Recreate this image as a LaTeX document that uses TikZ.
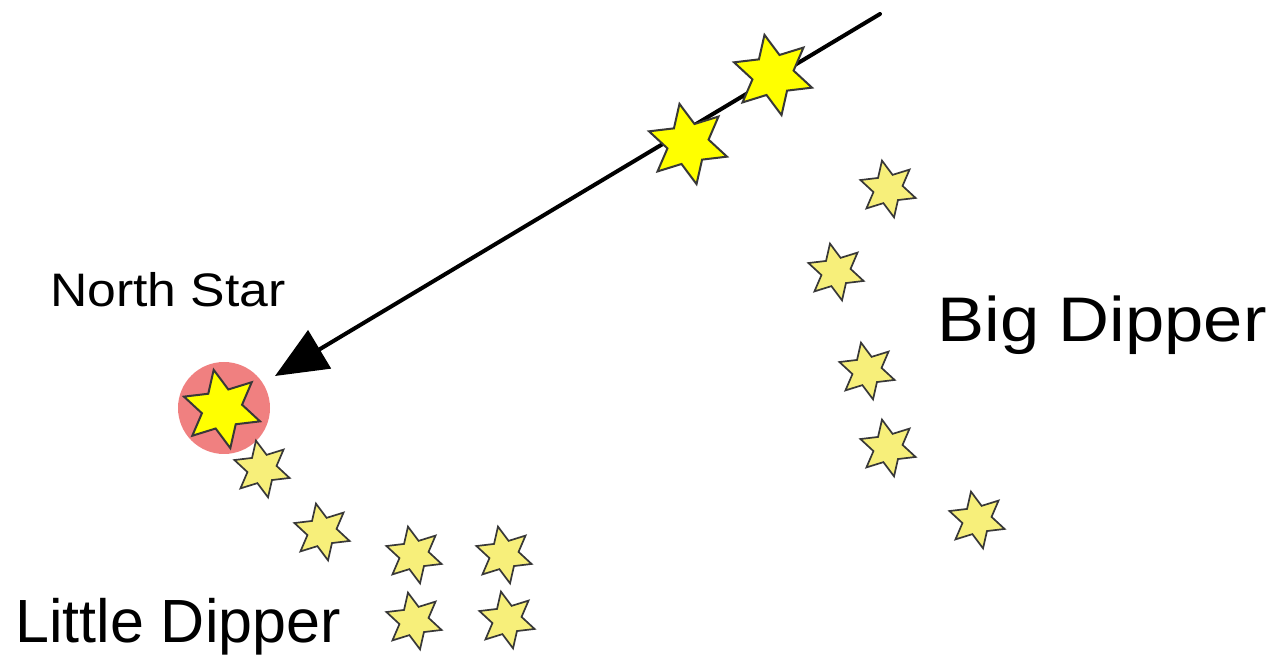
\documentclass[tikz,border=0pt]{standalone}
\usepackage{fontspec}
\setmainfont{Liberation Sans}
\usepackage{tikz}
\usetikzlibrary{arrows.meta}
\usetikzlibrary{shapes.geometric}

\definecolor{starpale}{HTML}{F7EF7A}
\definecolor{starbright}{HTML}{FFFF00}
\definecolor{halo}{HTML}{F08080}
\definecolor{starline}{HTML}{383838}

\tikzset{
    smallstar/.style={star, star points=6, star point ratio=1.95, minimum size=29pt,
        inner sep=0pt, draw=starline, line width=0.85pt, fill=starpale, rotate=12},
    bigstar/.style={smallstar, minimum size=41pt, fill=starbright, line width=1pt},
}

\begin{document}
\begin{tikzpicture}[x=0.5pt,y=-0.5pt]
        \useasboundingbox (0,0) rectangle (1279,656);

        % pointer ray towards the north star
        \coordinate (ray start) at (880,14);
        \coordinate (ray tip) at (275,376);
        \draw[line width=2pt, line cap=round, -{Triangle[length=26pt,width=22pt]}] (ray start) -- (ray tip);

        % north star
        \fill[halo] (224,408) circle (23pt);
        \node[bigstar, minimum size=40pt] (polaris) at (222,409) {};

        % pointer stars
        \node[bigstar] (dubhe) at (773,75) {};
        \node[bigstar] (merak) at (688,144) {};

        % big dipper
        \node[smallstar] (big1) at (888,189) {};
        \node[smallstar] (big2) at (836,272) {};
        \node[smallstar] (big3) at (867,371) {};
        \node[smallstar] (big4) at (888,448) {};
        \node[smallstar] (big5) at (977,520) {};

        % little dipper
        \node[smallstar] (little1) at (262,469) {};
        \node[smallstar] (little2) at (322,532) {};
        \node[smallstar] (little3) at (414,555) {};
        \node[smallstar] (little4) at (504,555) {};
        \node[smallstar] (little5) at (414,621) {};
        \node[smallstar] (little6) at (507,620) {};

        \node[anchor=base, inner sep=0pt, font=\fontsize{23.5pt}{28pt}\selectfont] (north label) at (168,307) {\scalebox{1.1}[1]{North Star}};
        \node[anchor=base, inner sep=0pt, font=\fontsize{31.5pt}{38pt}\selectfont] (big label) at (1102,342) {\scalebox{1.12}[1]{Big Dipper}};
        \node[anchor=base, inner sep=0pt, font=\fontsize{30.5pt}{36pt}\selectfont] (little label) at (178,643) {Little Dipper};
\end{tikzpicture}
\end{document}
